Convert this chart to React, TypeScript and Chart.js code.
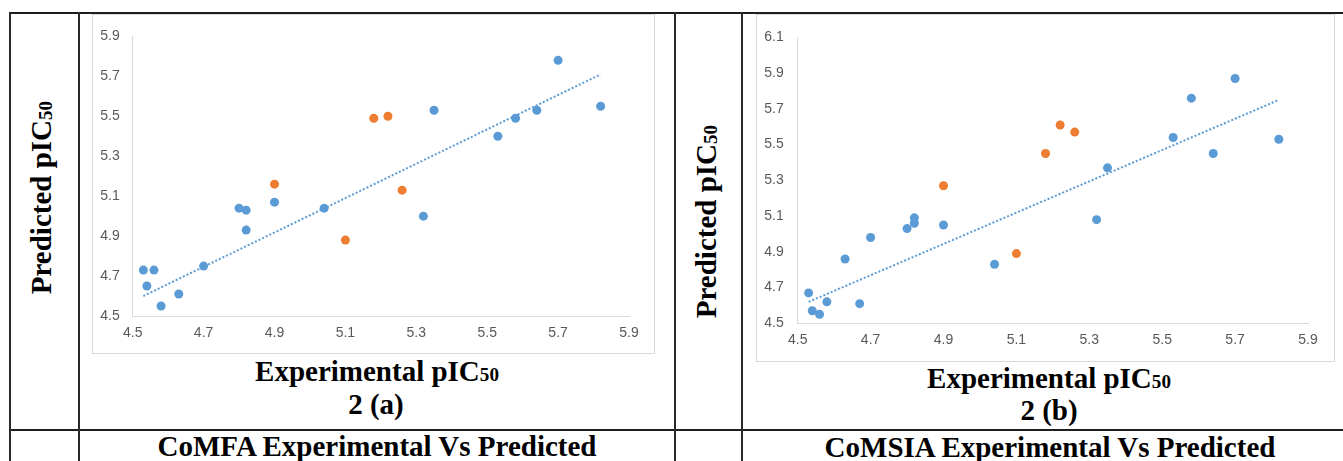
import React, { useEffect, useRef } from 'react';
import { Chart, registerables } from 'chart.js';

Chart.register(...registerables);

// ---------- data ----------
const xTickValues = [4.5, 4.7, 4.9, 5.1, 5.3, 5.5, 5.7, 5.9];
const comfaYTicks = [4.5, 4.7, 4.9, 5.1, 5.3, 5.5, 5.7, 5.9];
const comsiaYTicks = [4.5, 4.7, 4.9, 5.1, 5.3, 5.5, 5.7, 5.9, 6.1];

// CoMFA (2a) training set (blue)
const comfaTrainX = [4.53, 4.56, 4.54, 4.58, 4.63, 4.70, 4.80, 4.82, 4.82, 4.90, 5.04, 5.35, 5.32, 5.53, 5.58, 5.64, 5.70, 5.82];
const comfaTrainY = [4.73, 4.73, 4.65, 4.55, 4.61, 4.75, 5.04, 5.03, 4.93, 5.07, 5.04, 5.53, 5.00, 5.40, 5.49, 5.53, 5.78, 5.55];
// CoMFA (2a) test set (orange)
const comfaTestX = [4.90, 5.10, 5.18, 5.22, 5.26];
const comfaTestY = [5.16, 4.88, 5.49, 5.50, 5.13];
// CoMFA trendline end points
const comfaTrendX = [4.53, 5.82];
const comfaTrendY = [4.60, 5.71];

// CoMSIA (2b) training set (blue)
const comsiaTrainX = [4.53, 4.54, 4.56, 4.58, 4.63, 4.67, 4.70, 4.80, 4.82, 4.82, 4.90, 5.04, 5.35, 5.32, 5.53, 5.58, 5.64, 5.70, 5.82];
const comsiaTrainY = [4.67, 4.57, 4.55, 4.62, 4.86, 4.61, 4.98, 5.03, 5.09, 5.06, 5.05, 4.83, 5.37, 5.08, 5.54, 5.76, 5.45, 5.87, 5.53];
// CoMSIA (2b) test set (orange)
const comsiaTestX = [4.90, 5.10, 5.18, 5.22, 5.26];
const comsiaTestY = [5.27, 4.89, 5.45, 5.61, 5.57];
// CoMSIA trendline end points
const comsiaTrendX = [4.53, 5.82];
const comsiaTrendY = [4.62, 5.75];

const BLUE = '#5B9BD5';
const ORANGE = '#ED7D31';
const TICK_COLOR = '#595959';
const AXIS_COLOR = '#d9d9d9';

type PanelProps = {
  left: number; top: number; width: number; height: number;
  trainX: number[]; trainY: number[]; testX: number[]; testY: number[];
  trendX: number[]; trendY: number[];
  yTicks: number[]; yMax: number;
  padRight: number; padTop: number; padBottom: number;
  yAxisWidth: number; yTickPad: number; xTickPad: number;
};

function toPts(xs: number[], ys: number[]) {
  return xs.map((x, i) => ({ x, y: ys[i] }));
}

function ScatterPanel(p: PanelProps) {
  const ref = useRef<HTMLCanvasElement | null>(null);
  useEffect(() => {
    if (!ref.current) return;
    const tickFont = { family: '"Liberation Sans Narrow", "Liberation Sans", sans-serif', size: 14 };
    const chart = new Chart(ref.current, {
      type: 'scatter',
      data: {
        datasets: [
          {
            data: toPts(p.trendX, p.trendY),
            showLine: true,
            borderColor: BLUE,
            borderWidth: 2,
            borderDash: [2, 2],
            pointRadius: 0,
            order: 0,
          },
          {
            data: toPts(p.trainX, p.trainY),
            backgroundColor: BLUE,
            borderColor: BLUE,
            borderWidth: 0,
            pointRadius: 4.5,
            order: 1,
          },
          {
            data: toPts(p.testX, p.testY),
            backgroundColor: ORANGE,
            borderColor: ORANGE,
            borderWidth: 0,
            pointRadius: 4.5,
            order: 1,
          },
        ],
      } as any,
      options: {
        animation: false,
        responsive: false,
        devicePixelRatio: 1,
        layout: { padding: { left: 0, right: p.padRight, top: p.padTop, bottom: p.padBottom } },
        plugins: { legend: { display: false }, tooltip: { enabled: false } },
        scales: {
          x: {
            type: 'linear',
            min: 4.5,
            max: 5.9,
            afterBuildTicks: (s: any) => { s.ticks = xTickValues.map((v) => ({ value: v })); },
            afterFit: (s: any) => { s.height = 30; },
            grid: { drawOnChartArea: false, drawTicks: false, color: 'rgba(0,0,0,0)' },
            border: { display: true, color: AXIS_COLOR, width: 1 },
            ticks: {
              padding: p.xTickPad,
              color: TICK_COLOR,
              font: tickFont,
              maxRotation: 0,
              autoSkip: false,
              callback: (v: any) => Number(v).toFixed(1),
            },
          },
          y: {
            type: 'linear',
            min: 4.5,
            max: p.yMax,
            afterBuildTicks: (s: any) => { s.ticks = p.yTicks.map((v) => ({ value: v })); },
            afterFit: (s: any) => { s.width = p.yAxisWidth; },
            grid: { drawOnChartArea: false, drawTicks: false, color: 'rgba(0,0,0,0)' },
            border: { display: true, color: AXIS_COLOR, width: 1 },
            ticks: {
              padding: p.yTickPad,
              color: TICK_COLOR,
              font: tickFont,
              autoSkip: false,
              callback: (v: any) => Number(v).toFixed(1),
            },
          },
        },
      } as any,
    });
    return () => chart.destroy();
  }, []);
  return (
    <canvas
      ref={ref}
      width={p.width}
      height={p.height}
      style={{ position: 'absolute', left: p.left, top: p.top, width: p.width, height: p.height, display: 'block' }}
    />
  );
}

const FS = 29;
const SERIF = '"Liberation Serif", "Times New Roman", serif';

function Sub50() {
  return <span style={{ fontSize: '0.66em', position: 'relative', top: '0.04em' }}>50</span>;
}

// Text positioned by centre-x and baseline-y
function Label({ cx, baseline, children }: { cx: number; baseline: number; children: React.ReactNode }) {
  const w = 700;
  return (
    <div
      style={{
        position: 'absolute',
        left: cx - w / 2,
        top: baseline - 0.8375 * FS,
        width: w,
        textAlign: 'center',
        fontFamily: SERIF,
        fontWeight: 'bold',
        fontSize: FS,
        lineHeight: 1,
        whiteSpace: 'nowrap',
        color: '#000',
      }}
    >
      {children}
    </div>
  );
}

function VLabel({ cx, cy, children }: { cx: number; cy: number; children: React.ReactNode }) {
  const w = 400;
  return (
    <div
      style={{
        position: 'absolute',
        left: cx - w / 2,
        top: cy - FS / 2,
        width: w,
        height: FS,
        textAlign: 'center',
        fontFamily: SERIF,
        fontWeight: 'bold',
        fontSize: FS,
        lineHeight: 1,
        whiteSpace: 'nowrap',
        transform: 'rotate(-90deg)',
        transformOrigin: '50% 50%',
        color: '#000',
      }}
    >
      {children}
    </div>
  );
}

function HLine({ x1, x2, y }: { x1: number; x2: number; y: number }) {
  return <div style={{ position: 'absolute', left: x1, top: y - 1, width: x2 - x1, height: 2, background: '#1e1e1e' }} />;
}
function VLine({ x, y1, y2 }: { x: number; y1: number; y2: number }) {
  return <div style={{ position: 'absolute', left: x - 1, top: y1, width: 2, height: y2 - y1, background: '#2a2a2a' }} />;
}
function Box({ l, t, r, b }: { l: number; t: number; r: number; b: number }) {
  return (
    <div
      style={{
        position: 'absolute', left: l, top: t, width: r - l + 1, height: b - t + 1,
        border: '1px solid ' + AXIS_COLOR, boxSizing: 'border-box', background: '#fff',
      }}
    />
  );
}

export default function App() {
  return (
    <div style={{ position: 'absolute', left: 0, top: 0, width: 1343, height: 461, overflow: 'hidden', background: '#fff' }}>
      <Box l={92} t={14} r={654} b={353} />
      <Box l={756} t={14} r={1334} b={361} />

      <ScatterPanel
        left={92} top={15} width={562} height={338}
        trainX={comfaTrainX} trainY={comfaTrainY} testX={comfaTestX} testY={comfaTestY}
        trendX={comfaTrendX} trendY={comfaTrendY}
        yTicks={comfaYTicks} yMax={5.9}
        padRight={25} padTop={14.3} padBottom={7}
        yAxisWidth={40.7} yTickPad={13} xTickPad={9}
      />
      <ScatterPanel
        left={756} top={15} width={578} height={346}
        trainX={comsiaTrainX} trainY={comsiaTrainY} testX={comsiaTestX} testY={comsiaTestY}
        trendX={comsiaTrendX} trendY={comsiaTrendY}
        yTicks={comsiaYTicks} yMax={6.1}
        padRight={26} padTop={17} padBottom={7.7}
        yAxisWidth={41.7} yTickPad={14} xTickPad={8.5}
      />

      {/* table rules */}
      <HLine x1={9} x2={1343} y={13} />
      <HLine x1={9} x2={1343} y={429.5} />
      <VLine x={10} y1={12} y2={461} />
      <VLine x={78.5} y1={12} y2={461} />
      <VLine x={675} y1={12} y2={461} />
      <VLine x={742} y1={12} y2={461} />

      {/* axis titles */}
      <VLabel cx={41.2} cy={197}>Predicted pIC<Sub50 /></VLabel>
      <VLabel cx={705.7} cy={221}>Predicted pIC<Sub50 /></VLabel>

      <Label cx={377} baseline={381}>Experimental pIC<Sub50 /></Label>
      <Label cx={376} baseline={414}>2 (a)</Label>
      <Label cx={1049} baseline={388}>Experimental pIC<Sub50 /></Label>
      <Label cx={1049} baseline={420}>2 (b)</Label>

      <Label cx={377} baseline={456}>CoMFA Experimental Vs Predicted</Label>
      <Label cx={1050} baseline={457}>CoMSIA Experimental Vs Predicted</Label>
    </div>
  );
}
